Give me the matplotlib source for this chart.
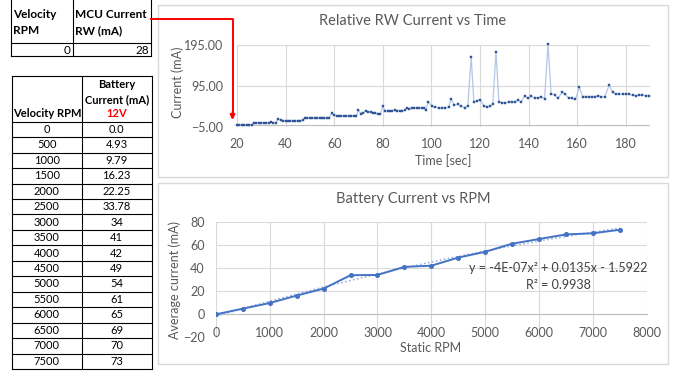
import numpy as np
import matplotlib
matplotlib.use("Agg")
import matplotlib.pyplot as plt
from matplotlib.patches import Rectangle

plt.rcParams["font.family"] = ["Lato", "DejaVu Sans"]

# ---------------------------------------------------------------- data
mcu_rpm = "0"
mcu_current = "28"

rpm = [0, 500, 1000, 1500, 2000, 2500, 3000, 3500,
       4000, 4500, 5000, 5500, 6000, 6500, 7000, 7500]
battery_current = [0.0, 4.93, 9.79, 16.23, 22.25, 33.78, 34, 41,
                   42, 49, 54, 61, 65, 69, 70, 73]
battery_labels = ["0.0", "4.93", "9.79", "16.23", "22.25", "33.78", "34", "41",
                  "42", "49", "54", "61", "65", "69", "70", "73"]

time_sec = [20, 21, 22, 23, 24, 25, 26, 27, 28, 29, 30, 31, 32, 33, 34, 35,
            36, 37, 38, 39, 40, 41, 42, 43, 44, 45, 46, 47, 48, 49, 50, 51,
            52, 53, 54, 55, 56, 57, 58, 59, 60, 61, 62, 63, 64, 65, 66, 67,
            68, 69, 70, 71, 72, 73, 74, 75, 76, 77, 78, 79, 80, 81, 82, 83,
            84, 85, 86, 87, 88, 89, 90, 91, 92, 93, 94, 95, 96, 97, 97.8, 98.7,
            100.4, 101.7, 103.1, 104.5, 105.8, 107.2, 108.0, 109.4, 110.8,
            112.3, 113.7, 115.0, 116.4, 117.5, 118.9, 120.1, 121.5, 122.9,
            124.2, 125.3, 126.6, 127.8, 129.0, 130.4, 131.8, 133.1, 134.5,
            135.7, 137.0, 138.4, 139.7, 141.1, 142.5, 143.8, 145.2, 146.6,
            148.0, 149.3, 150.7, 152.2, 153.7, 155.0, 156.5, 157.9, 159.3,
            160.9, 162.3, 163.6, 164.9, 166.1, 167.4, 168.6, 169.9, 171.4,
            173.2, 174.6, 176.0, 177.3, 178.7, 180.1, 181.4, 182.8, 184.2,
            185.5, 186.9, 188.3, 189.7]
rel_current = [0.0, -0.3, 0.0, 0.2, -0.1, 0.0, 0.3, 5.5, 5.8, 5.9, 5.6, 5.8,
               5.4, 5.7, 6.0, 5.6, 5.9, 14.0, 11.0, 10.4, 10.2, 9.9, 10.3,
               10.0, 9.8, 10.2, 10.6, 10.9, 17.8, 17.1, 16.8, 16.5, 16.3,
               16.8, 16.6, 16.3, 16.9, 17.1, 17.3, 28.6, 23.7, 22.8, 22.3,
               22.1, 21.8, 22.1, 22.5, 22.2, 21.9, 22.1, 36.0, 27.7, 29.3,
               34.3, 32.8, 31.3, 30.3, 29.3, 27.3, 26.1, 45.0, 34.3, 34.8,
               34.1, 34.6, 35.3, 34.3, 33.8, 34.7, 35.3, 42.3, 38.3, 41.0,
               40.8, 41.3, 41.0, 41.5, 40.8, 37.3, 56.3,
               45.0, 42.8, 41.7, 41.7, 41.3, 44.0, 63.0, 49.3, 50.5,
               45.0, 42.3, 46.5, 165.0, 55.8, 59.0, 61.5, 47.3, 44.3,
               45.0, 51.3, 179.0, 56.6, 54.0, 54.0, 56.3, 56.3, 56.3,
               61.3, 56.3, 71.2, 64.9, 69.6, 66.3, 64.8, 69.3, 64.0,
               197.0, 76.2, 73.9, 64.9, 79.5, 75.2, 65.3, 64.8, 62.3,
               91.5, 68.9, 69.3, 69.3, 69.3, 69.3, 71.2, 68.8, 68.8,
               97.3, 79.3, 75.3, 74.8, 75.3, 75.3, 74.8, 72.3, 71.8,
               72.3, 72.3, 71.8, 71.8]

fit_text = "y = -4E-07x² + 0.0135x - 1.5922"
r2_text = "R² = 0.9938"

# ---------------------------------------------------------------- layout
W, H = 678, 373
fig = plt.figure(figsize=(W / 100, H / 100), dpi=100)
GRID = "#d9d9d9"
TXT = "#595959"


def box(x0, y0, x1, y1):
    return [x0 / W, 1 - y1 / H, (x1 - x0) / W, (y1 - y0) / H]


# --- chart 1: relative RW current vs time
ax1 = fig.add_axes(box(237, 45, 650, 127))
ax1.plot(time_sec, rel_current, color="#b4c7e7", lw=0.9, marker="s", ms=1.5,
         mfc="#2f5597", mec="#2f5597", mew=0.3, clip_on=False, zorder=3)
ax1.set_xlim(20, 190)
ax1.set_ylim(-5, 195)
ax1.set_xticks(range(20, 181, 20))
ax1.set_yticks([-5, 95, 195])
ax1.yaxis.set_major_formatter("{x:.2f}")
ax1.grid(color=GRID, lw=0.8)
ax1.axhline(0, color="#bfbfbf", lw=0.8)
for s in ax1.spines.values():
    s.set_visible(False)
ax1.tick_params(length=0, colors=TXT, labelsize=9)
ax1.tick_params(axis="y", pad=10)
ax1.tick_params(axis="x", pad=8)

# --- chart 2: battery current vs rpm
ax2 = fig.add_axes(box(216, 221.7, 646.6, 337.5))
coef = np.polyfit(rpm, battery_current, 2)
xs = np.linspace(rpm[0], rpm[-1], 200)
ax2.plot(xs, np.polyval(coef, xs), color="#8faadc", lw=1.1, ls=":", zorder=2)
ax2.plot(rpm, battery_current, color="#4472c4", lw=1.4, marker="o", ms=2.6,
         zorder=3)
ax2.set_xlim(0, 8000)
ax2.set_ylim(-20, 80)
ax2.set_xticks(range(0, 8001, 1000))
ax2.set_yticks(range(-20, 81, 20))
ax2.grid(color=GRID, lw=0.8)
ax2.yaxis.get_gridlines()[0].set_visible(False)
for s in ax2.spines.values():
    s.set_visible(False)
ax2.spines["bottom"].set_visible(True)
ax2.spines["bottom"].set_position(("data", 0))
ax2.spines["bottom"].set_color("#bfbfbf")
ax2.tick_params(length=0, colors=TXT, labelsize=9)
ax2.tick_params(axis="y", pad=8)
ax2.tick_params(axis="x", pad=9)

# --- overlay: tables, panel frames, labels, arrow
ov = fig.add_axes([0, 0, 1, 1], zorder=5)
ov.set_xlim(0, W)
ov.set_ylim(H, 0)
ov.axis("off")

ov.add_patch(Rectangle((157.7, 5), 510.6, 171.7, fill=False, ec=GRID, lw=1))
ov.add_patch(Rectangle((157.7, 183.3), 510.6, 180.7, fill=False, ec=GRID, lw=1))

ov.text(413, 20.7, "Relative RW Current vs Time", ha="center", va="center",
        fontsize=10.5, color=TXT)
ov.text(413, 199, "Battery Current vs RPM", ha="center", va="center",
        fontsize=10.5, color=TXT)
ov.text(443.5, 161, "Time [sec]", ha="center", va="center", fontsize=9, color=TXT)
ov.text(431, 347.7, "Static RPM", ha="center", va="center", fontsize=9, color=TXT)
ov.text(178, 82, "Current (mA)", rotation=90, ha="center", va="center",
        fontsize=9, color=TXT)
ov.text(175, 280, "Average current (mA)", rotation=90, ha="center",
        va="center", fontsize=9, color=TXT)
ov.text(558, 268, fit_text, ha="center", va="center", fontsize=9, color="#404040")
ov.text(558, 285, r2_text, ha="center", va="center", fontsize=9, color="#404040")

# table 1
tl = dict(color="black", lw=0.8)
for x in (11, 72.7, 151):
    ov.plot([x, x], [0, 56], **tl)
for y in (42.7, 56):
    ov.plot([11, 151], [y, y], **tl)
ov.text(13, 15, "Velocity", fontsize=8.5, weight="bold", va="center")
ov.text(13, 31, "RPM", fontsize=8.5, weight="bold", va="center")
ov.text(75, 15, "MCU Current", fontsize=8.5, weight="bold", va="center")
ov.text(75, 31, "RW (mA)", fontsize=8.5, weight="bold", va="center")
ov.text(70, 50, mcu_rpm, fontsize=8.5, ha="right", va="center")
ov.text(149, 50, mcu_current, fontsize=8.5, ha="right", va="center")

# table 2
top, head, bot = 76, 121.7, 369
row_h = (bot - head) / len(rpm)
for x in (11.7, 81.7, 151.7):
    ov.plot([x, x], [top, bot], **tl)
ov.plot([11.7, 151.7], [top, top], **tl)
for i in range(len(rpm) + 1):
    y = head + i * row_h
    ov.plot([11.7, 151.7], [y, y], **tl)
ov.text(116.7, 85, "Battery", fontsize=8, weight="bold", ha="center", va="center")
ov.text(116.7, 99.3, "Current (mA)", fontsize=8, weight="bold", ha="center",
        va="center")
ov.text(116.7, 113.3, "12V", fontsize=8, weight="bold", ha="center",
        va="center", color="red")
ov.text(13.5, 113.3, "Velocity RPM", fontsize=8, weight="bold", va="center")
for i, (r, lab) in enumerate(zip(rpm, battery_labels)):
    y = head + (i + 0.5) * row_h
    ov.text(46.7, y, str(r), fontsize=8, ha="center", va="center")
    ov.text(116.7, y, lab, fontsize=8, ha="center", va="center")

# red arrow from table 1 to chart 1
ov.plot([151, 232.5, 232.5], [19, 19, 114], color="red", lw=1.4)
ov.annotate("", xy=(232.5, 120), xytext=(232.5, 112),
            arrowprops=dict(arrowstyle="-|>", color="red", lw=1.4,
                            mutation_scale=7, shrinkA=0, shrinkB=0))

fig.savefig("out.png", dpi=100)
